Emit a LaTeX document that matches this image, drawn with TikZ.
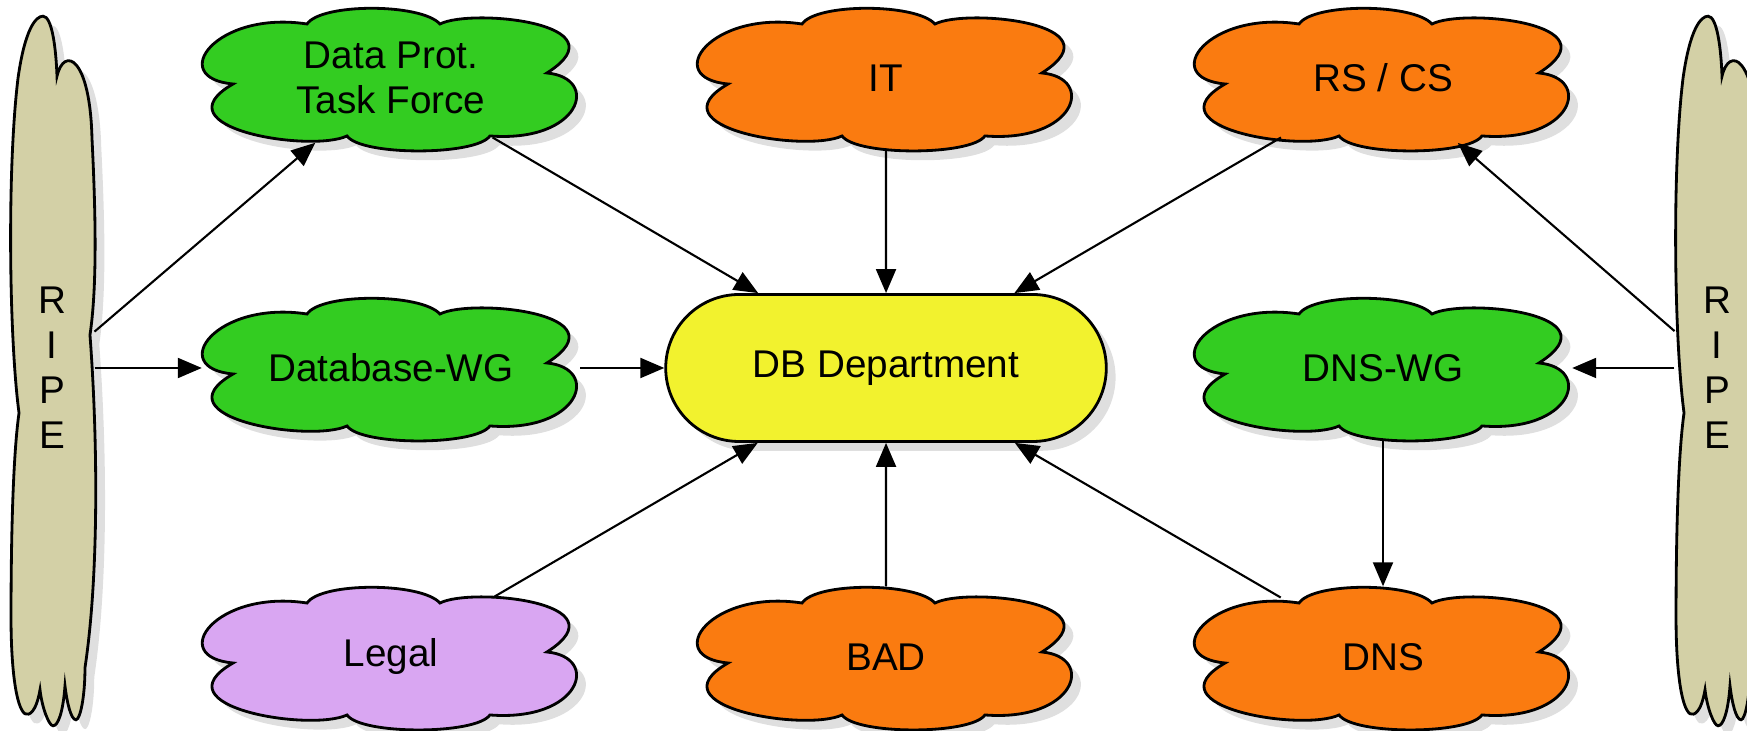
\documentclass[tikz,border=0pt]{standalone}
\usepackage{fontspec}
\setmainfont{Liberation Sans}
\usetikzlibrary{shapes.geometric,shapes.misc,shadows,arrows.meta,backgrounds}
\definecolor{wggreen}{RGB}{51,204,33}
\definecolor{unitorange}{RGB}{250,123,16}
\definecolor{deptyellow}{RGB}{242,242,46}
\definecolor{legallilac}{RGB}{217,166,242}
\definecolor{ripetan}{RGB}{211,208,166}
% outline of a group cloud, in px round its centre
\newcommand\groupoutline{(-158,-6) .. controls (-225,0) and (-175,68) .. (-84,54)
  .. controls (-70,75) and (30,75) .. (49,54)
  .. controls (80,70) and (235,55) .. (156,5)
  .. controls (210,0) and (190,-65) .. (99,-58)
  .. controls (85,-78) and (-30,-78) .. (-44,-58)
  .. controls (-80,-75) and (-235,-50) .. (-158,-6) -- cycle}
% outline of the tall RIPE cloud
\newcommand\ripeoutline{(-9,352) .. controls (0,352) and (4,320) .. (5,292)
  .. controls (12,322) and (38,312) .. (40,230)
  .. controls (44,150) and (45,80) .. (38,33)
  .. controls (45,-60) and (48,-200) .. (33,-300)
  .. controls (33,-330) and (28,-352) .. (24,-352)
  .. controls (19,-352) and (15,-335) .. (13,-318)
  .. controls (11,-345) and (6,-358) .. (1,-358)
  .. controls (-3,-358) and (-10,-340) .. (-12,-322)
  .. controls (-16,-345) and (-23,-348) .. (-27,-346)
  .. controls (-36,-340) and (-41,-300) .. (-41,-250)
  .. controls (-41,-150) and (-38,-80) .. (-33,-45)
  .. controls (-43,30) and (-45,200) .. (-34,290)
  .. controls (-27,340) and (-16,352) .. (-9,352) -- cycle}
\begin{document}
\begin{tikzpicture}[
  every node/.style={font=\fontsize{11}{12.8}\selectfont},
  group/.style={ellipse, inner sep=0pt, minimum width=3.77cm, minimum height=1.4cm, align=center},
  ripe/.style={ellipse, inner sep=0pt, minimum width=0.84cm, minimum height=7cm, align=center},
  outline/.style={x=0.01cm, y=0.01cm, draw, thick, drop shadow={opacity=0.25}},
  link/.style={semithick, -{Triangle[length=0.24cm,width=0.2cm]}}
]
\useasboundingbox (0,0) rectangle (17.47,7.31);

\node[ripe] (ripeL) at (0.52,3.63) {R\\I\\P\\E};
\node[ripe] (ripeR) at (17.17,3.63) {R\\I\\P\\E};

\node[group] (dptf) at (3.91,6.53) {Data Prot.\\Task Force};
\node[group] (it) at (8.86,6.53) {IT};
\node[group] (rscs) at (13.83,6.53) {RS / CS};

\node[group] (dbwg) at (3.91,3.63) {Database-WG};
\node[rounded rectangle, draw, thick, fill=deptyellow, minimum width=4.64cm,
  minimum height=1.47cm, drop shadow={opacity=0.25}] (dbdept) at (8.86,3.63) {DB Department};
\node[group] (dnswg) at (13.83,3.63) {DNS-WG};

\node[group] (legal) at (3.91,0.74) {Legal};
\node[group] (bad) at (8.86,0.74) {BAD};
\node[group] (dns) at (13.83,0.74) {DNS};

\begin{scope}[on background layer]
\draw[outline, fill=ripetan, shift={(ripeL)}] \ripeoutline;
\draw[outline, fill=ripetan, shift={(ripeR)}] \ripeoutline;
\draw[outline, fill=wggreen, shift={(dptf)}] \groupoutline;
\draw[outline, fill=unitorange, shift={(it)}] \groupoutline;
\draw[outline, fill=unitorange, shift={(rscs)}] \groupoutline;
\draw[outline, fill=wggreen, shift={(dbwg)}] \groupoutline;
\draw[outline, fill=wggreen, shift={(dnswg)}] \groupoutline;
\draw[outline, fill=legallilac, shift={(legal)}] \groupoutline;
\draw[outline, fill=unitorange, shift={(bad)}] \groupoutline;
\draw[outline, fill=unitorange, shift={(dns)}] \groupoutline;
\end{scope}

\draw[link] (ripeL) -- (dptf);
\draw[link] (ripeL) -- (dbwg);
\draw[link] (ripeR) -- (rscs);
\draw[link] (ripeR) -- (dnswg);

\draw[link] (dptf) -- (dbdept);
\draw[link] (it) -- (dbdept);
\draw[link] (rscs) -- (dbdept);
\draw[link] (dbwg) -- (dbdept);
\draw[link] (legal) -- (dbdept);
\draw[link] (bad) -- (dbdept);
\draw[link] (dns) -- (dbdept);
\draw[link] (dnswg) -- (dns);
\end{tikzpicture}
\end{document}
